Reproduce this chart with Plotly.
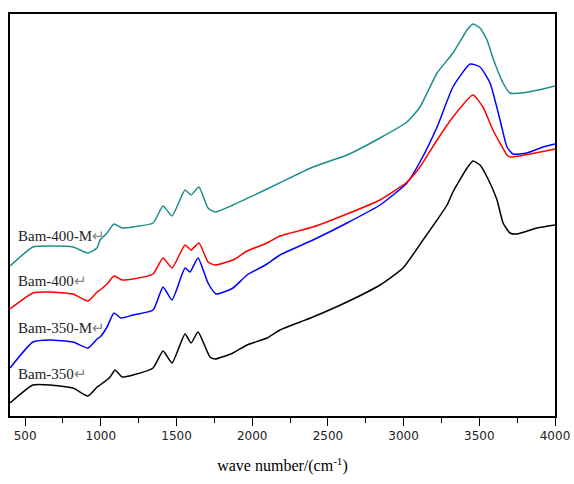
import plotly.graph_objects as go

# Wavenumbers (cm^-1) and transmittance (a.u., offset)
wn_350 = [400, 552, 664, 816, 915, 975, 995, 1061, 1094, 1140, 1212, 1345, 1411, 1470, 1556, 1596, 1642,
          1721, 1754, 1873, 1966, 2098, 2183, 2316, 2401, 2626, 2844, 2996, 3128, 3221, 3287, 3326, 3419,
          3458, 3505, 3551, 3617, 3657, 3703, 3749, 3881, 4000]
t_350 = [13, 31, 31, 28, 20, 29, 31, 39, 46, 39, 41, 48, 65, 53, 82, 73, 84, 59, 57, 63, 71, 78, 86, 94,
         99, 114, 131, 148, 176, 196, 211, 224, 248, 255, 251, 239, 216, 193, 183, 182, 188, 191]

wn_350m = [400, 552, 664, 816, 915, 975, 995, 1041, 1087, 1133, 1212, 1345, 1411, 1470, 1556, 1589, 1642,
           1708, 1761, 1873, 1966, 2098, 2183, 2401, 2626, 2844, 3022, 3108, 3221, 3326, 3439, 3505, 3571,
           3637, 3683, 3723, 3815, 3921, 4000]
t_350m = [48, 74, 76, 74, 68, 77, 79, 89, 103, 98, 101, 106, 129, 116, 148, 144, 158, 133, 122, 128, 141,
          152, 161, 176, 193, 211, 233, 254, 289, 329, 352, 349, 333, 296, 269, 262, 263, 269, 272]

wn_400 = [400, 552, 664, 816, 915, 975, 995, 1041, 1087, 1140, 1212, 1345, 1411, 1470, 1556, 1596, 1648,
          1708, 1754, 1873, 1966, 2098, 2183, 2401, 2626, 2844, 3022, 3108, 3221, 3326, 3458, 3524, 3590,
          3683, 3703, 4000]
t_400 = [107, 123, 124, 122, 115, 124, 126, 132, 140, 136, 137, 142, 158, 148, 171, 166, 173, 154, 151,
         156, 165, 173, 180, 189, 202, 216, 234, 249, 276, 299, 321, 309, 286, 261, 259, 267]

wn_400m = [400, 552, 664, 816, 915, 975, 995, 1041, 1087, 1140, 1212, 1345, 1411, 1470, 1556, 1596, 1648,
           1708, 1754, 1873, 2098, 2316, 2401, 2626, 2844, 3022, 3108, 3221, 3326, 3419, 3458, 3505, 3551,
           3590, 3657, 3703, 3782, 3921, 4000]
t_400m = [150, 169, 170, 169, 163, 168, 176, 183, 192, 188, 189, 193, 210, 200, 226, 221, 229, 208, 204,
          211, 227, 243, 249, 261, 278, 294, 309, 343, 363, 386, 392, 388, 376, 358, 333, 323, 323, 327, 330]

series_names = ["Bam-350", "Bam-350-M", "Bam-400", "Bam-400-M"]
series_colors = ["#000000", "#0000ff", "#ff0000", "#1f8c8c"]
label_y = [42, 88, 135, 180]
x_ticks = [500, 1000, 1500, 2000, 2500, 3000, 3500, 4000]

fig = go.Figure()
for name, xs, ys, col in zip(series_names,
                             [wn_350, wn_350m, wn_400, wn_400m],
                             [t_350, t_350m, t_400, t_400m],
                             series_colors):
    fig.add_trace(go.Scatter(x=xs, y=ys, mode="lines", name=name,
                             line=dict(color=col, width=1.5, shape="spline", smoothing=0.5),
                             showlegend=False))

for name, ly in zip(series_names, label_y):
    fig.add_annotation(x=0.011, xref="paper", y=ly, yref="y", xanchor="left", yanchor="middle",
                       text=name + '<span style="color:#888888">\u21b5</span>', showarrow=False,
                       font=dict(family="Liberation Serif", size=15, color="#222222"))

fig.update_layout(
    width=574, height=484,
    margin=dict(l=10, r=19, t=14, b=68),
    plot_bgcolor="white", paper_bgcolor="white",
    xaxis=dict(range=[400, 4000], tickvals=x_ticks, ticks="outside", ticklen=8, tickwidth=1,
               tickcolor="black", showline=True, linecolor="black", linewidth=1.5, mirror=True,
               showgrid=False, zeroline=False, automargin=False,
               minor=dict(tickvals=[750, 1250, 1750, 2250, 2750, 3250, 3750], ticks="outside",
                          ticklen=5, tickcolor="black"),
               tickfont=dict(family="DejaVu Sans", size=12, color="#222222"),
               title=dict(text="wave number/(cm<sup>-1</sup>)", standoff=18,
                          font=dict(family="Liberation Serif", size=16, color="black"))),
    yaxis=dict(range=[0, 402], showticklabels=False, ticks="", showline=True, linecolor="black",
               linewidth=1.5, mirror=True, showgrid=False, zeroline=False, automargin=False),
)

fig.write_html("out.html")
